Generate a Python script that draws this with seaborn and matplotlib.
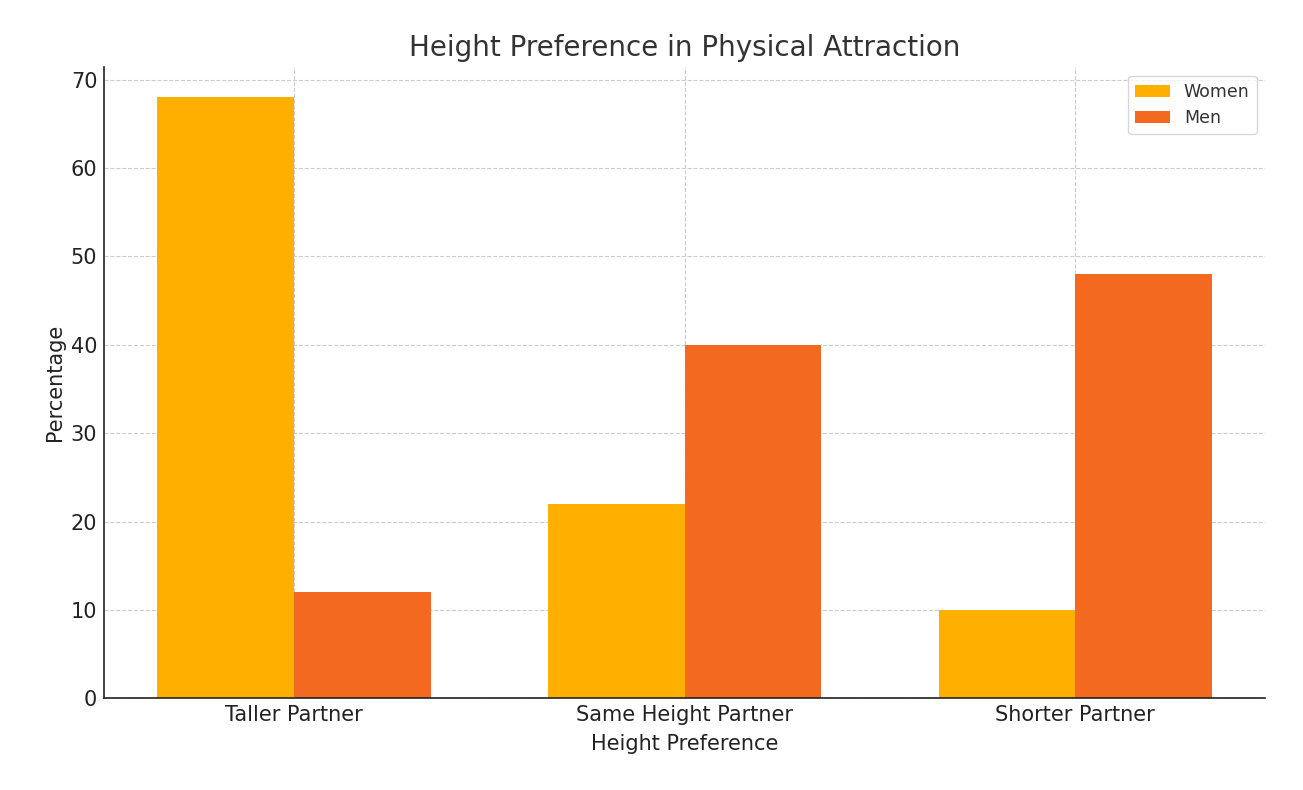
import pandas as pd
import matplotlib
matplotlib.use("Agg")
import matplotlib.pyplot as plt
import seaborn as sns

categories = ["Taller Partner", "Same Height Partner", "Shorter Partner"]
women = [68, 22, 10]
men = [12, 40, 48]
groups = ["Women", "Men"]
colors = ["#FFAF00", "#F46920"]

df = pd.DataFrame({
    "Height Preference": categories * 2,
    "Percentage": women + men,
    "Group": [groups[0]] * len(categories) + [groups[1]] * len(categories),
})

sns.set_style("white")
plt.rcParams["font.family"] = ["DejaVu Sans"]

fig, ax = plt.subplots(figsize=(13.03, 7.9), dpi=100)
sns.barplot(data=df, x="Height Preference", y="Percentage", hue="Group",
            palette=colors, width=0.7, saturation=1, ax=ax, errorbar=None,
            linewidth=0)

ax.set_xlim(-0.486, 2.486)
ax.set_ylim(0, 71.4)
ax.set_axisbelow(True)
ax.grid(True, linestyle="--", linewidth=0.8, color="#cccccc")
ax.xaxis.grid(True, linestyle="--", linewidth=0.8, color="#cccccc")

for side in ["top", "right"]:
    ax.spines[side].set_visible(False)
for side in ["left", "bottom"]:
    ax.spines[side].set_color("#222222")
    ax.spines[side].set_linewidth(1.2)

ax.tick_params(axis="both", labelsize=15, colors="#222222", length=4, width=1,
               direction="in", pad=5)
ax.set_title("Height Preference in Physical Attraction", fontsize=20,
             color="#333333", pad=8)
ax.set_xlabel("Height Preference", fontsize=15, color="#222222", labelpad=6)
ax.set_ylabel("Percentage", fontsize=15, color="#222222")

leg = ax.legend(loc="upper right", fontsize=12.5, frameon=True, title=None)
for t in leg.get_texts():
    t.set_color("#333333")

fig.subplots_adjust(left=0.08, right=0.971, top=0.915, bottom=0.116)
fig.savefig("out.png", dpi=100)
